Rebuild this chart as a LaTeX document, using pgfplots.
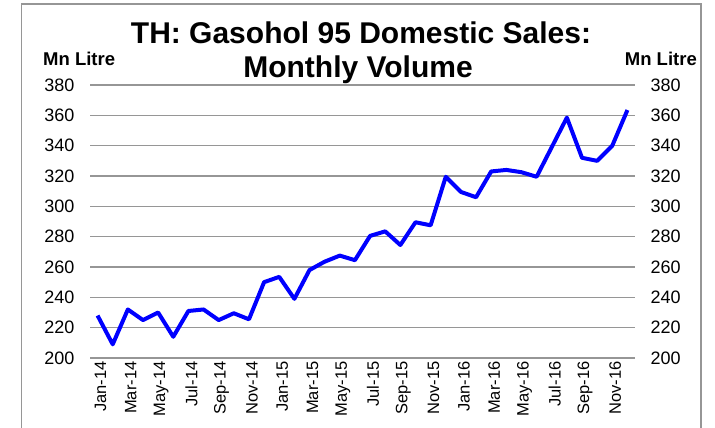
\documentclass[border=0pt]{standalone}
\usepackage{fontspec}
\setmainfont{Liberation Sans}
\usepackage{pgfplots}
\pgfplotsset{compat=1.18}
\usepackage{pgfplotstable}
\definecolor{gridgray}{RGB}{150,150,150}
\definecolor{linblue}{RGB}{0,0,255}
\pgfplotstableread{
x y
0 228
1 209
2 232
3 225
4 230
5 214
6 231
7 232
8 225
9 229.5
10 225.5
11 250
12 253.5
13 239
14 258
15 263.5
16 267.5
17 264.5
18 280.5
19 283.5
20 274.5
21 289.5
22 287.5
23 319.5
24 309.5
25 306
26 323
27 324
28 322.5
29 319.5
30 339
31 358.5
32 332
33 330
34 340
35 363.5
}\datatable
\begin{document}
\begin{tikzpicture}
\path[use as bounding box] (0,0) rectangle (715bp,428bp);
\fill[white] (0,0) rectangle (715bp,428bp);
\draw[gridgray,line width=1.5bp] (21.5bp,-10bp) rectangle (701bp,424bp);
\begin{axis}[
  at={(90bp,70bp)}, anchor=south west,
  width=545bp, height=273bp, scale only axis,
  xmin=-0.5, xmax=35.5, ymin=200, ymax=380,
  ytick={200,220,...,380},
  xtick={0,2,...,34},
  xticklabels={Jan-14,Mar-14,May-14,Jul-14,Sep-14,Nov-14,Jan-15,Mar-15,May-15,Jul-15,Sep-15,Nov-15,Jan-16,Mar-16,May-16,Jul-16,Sep-16,Nov-16},
  x tick label style={rotate=90, anchor=east, font=\fontsize{16.5bp}{18bp}\selectfont},
  y tick label style={font=\fontsize{18bp}{20bp}\selectfont},
  /pgf/number format/assume math mode=true,
  axis x line*=bottom, axis y line*=left,
  x axis line style={gridgray, line width=2bp, -},
  y axis line style={draw=none},
  major tick length=0pt,
  ymajorgrids, grid style={gridgray, line width=1.3bp},
  ytick style={draw=none}, xtick style={draw=none},
  yticklabel style={xshift=-12bp},
  xticklabel style={yshift=-3bp},
  clip=false,
]
\addplot[linblue, line width=4bp, line join=round] table[x=x,y=y] {\datatable};
\end{axis}
\begin{axis}[
  at={(90bp,70bp)}, anchor=south west,
  width=545bp, height=273bp, scale only axis,
  xmin=-0.5, xmax=35.5, ymin=200, ymax=380,
  ytick={200,220,...,380},
  hide x axis,
  axis y line*=right, y axis line style={draw=none},
  y tick label style={font=\fontsize{18bp}{20bp}\selectfont, xshift=12bp},
  /pgf/number format/assume math mode=true,
  major tick length=0pt, ytick style={draw=none},
]
\end{axis}
\node[anchor=base, font=\fontsize{30bp}{34bp}\selectfont\bfseries] at (361bp,384bp) {TH: Gasohol 95 Domestic Sales:};
\node[anchor=base, font=\fontsize{30bp}{34bp}\selectfont\bfseries] at (358bp,350bp) {Monthly Volume};
\node[anchor=base west, inner sep=0pt, font=\fontsize{18.5bp}{20bp}\selectfont\bfseries] at (43bp,362bp) {Mn Litre};
\node[anchor=base east, inner sep=0pt, font=\fontsize{18.5bp}{20bp}\selectfont\bfseries] at (697bp,362bp) {Mn Litre};
\end{tikzpicture}
\end{document}
